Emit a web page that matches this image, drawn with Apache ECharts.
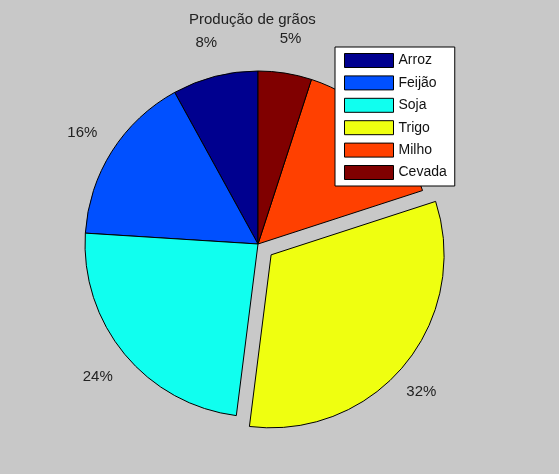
<!DOCTYPE html>
<html>
<head>
<meta charset="utf-8">
<script src="https://cdn.jsdelivr.net/npm/echarts@6/dist/echarts.min.js"></script>
<style>
  html, body { margin: 0; padding: 0; background: #c8c8c8; }
  #chart { width: 559px; height: 474px; }
</style>
</head>
<body>
<div id="chart"></div>
<script>
// Grain production shares (percent)
const categories = ['Arroz', 'Feijão', 'Soja', 'Trigo', 'Milho', 'Cevada'];
const values = [8, 16, 24, 32, 15, 5];
const sliceColors = ['#00008f', '#0050ff', '#10ffef', '#efff10', '#ff4000', '#800000'];
const explodedSlice = 'Trigo';
const chartTitle = 'Produção de grãos';

const FONT = '"Liberation Sans", Arial, sans-serif';
const CENTER = [258, 244];
const R = 173;
const OFFSET = 17;

const total = values.reduce((a, b) => a + b, 0);
const explodedIndex = categories.indexOf(explodedSlice);

const pieData = categories.map((name, i) => ({
  name: name,
  value: values[i],
  selected: i === explodedIndex,
  itemStyle: { color: sliceColors[i] }
}));

// Transparent ring used only to place the percentage labels around the pie
const labelData = categories.map((name, i) => ({
  name: name,
  value: values[i],
  selected: i === explodedIndex
}));

const chart = echarts.init(document.getElementById('chart'), null, { renderer: 'canvas' });

chart.setOption({
  backgroundColor: '#c8c8c8',
  animation: false,
  title: {
    text: chartTitle,
    left: 189,
    top: 12,
    padding: 0,
    textStyle: { fontFamily: FONT, fontSize: 15, fontWeight: 'normal', color: '#222' }
  },
  legend: {
    orient: 'vertical',
    left: 335,
    top: 47,
    width: 121,
    padding: [6, 8, 6, 9],
    itemWidth: 49,
    itemHeight: 14,
    itemGap: 7.4,
    backgroundColor: '#ffffff',
    borderColor: '#000000',
    borderWidth: 1,
    borderRadius: 0,
    selectedMode: false,
    data: categories,
    icon: 'rect',
    itemStyle: { borderColor: '#000', borderWidth: 1 },
    textStyle: { fontFamily: FONT, fontSize: 14, color: '#111', padding: [0, 0, 0, 0], lineHeight: 14 }
  },
  series: [
    {
      name: 'grãos',
      type: 'pie',
      center: CENTER,
      radius: [0, R],
      startAngle: 90,
      clockwise: false,
      selectedMode: 'single',
      selectedOffset: OFFSET,
      avoidLabelOverlap: false,
      label: { show: false },
      labelLine: { show: false },
      itemStyle: { borderColor: '#000', borderWidth: 1 },
      emphasis: { disabled: true },
      data: pieData
    },
    {
      name: 'rótulos',
      type: 'pie',
      silent: true,
      center: CENTER,
      radius: [0, 2.37 * R],
      startAngle: 90,
      clockwise: false,
      selectedMode: 'single',
      selectedOffset: OFFSET,
      avoidLabelOverlap: false,
      z: 1,
      itemStyle: { color: 'rgba(0,0,0,0)', borderWidth: 0 },
      labelLine: { show: false },
      label: {
        show: true,
        position: 'inside',
        fontFamily: FONT,
        fontSize: 15,
        color: '#222',
        formatter: p => Math.round(p.value / total * 100) + '%'
      },
      // slight nudge for the exploded slice's label
      labelLayout: p => (p.dataIndex === explodedIndex ? { dx: -10, dy: 4 } : {}),
      emphasis: { disabled: true },
      data: labelData
    }
  ]
});
</script>
</body>
</html>
